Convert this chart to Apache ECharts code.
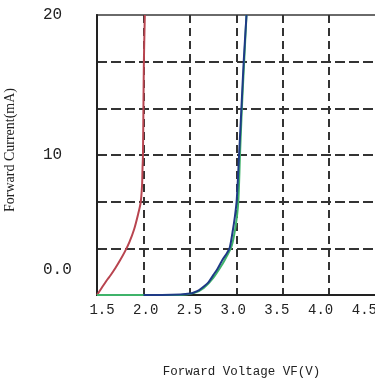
<!DOCTYPE html>
<html>
<head>
<meta charset="utf-8">
<script src="https://cdn.jsdelivr.net/npm/echarts@6/dist/echarts.min.js"></script>
<style>
html,body{margin:0;padding:0;background:#fff;}
#chart{width:375px;height:385px;}
</style>
</head>
<body>
<div id="chart"></div>
<script>
// Tick labels
const xTickValues = [1.5, 2.0, 2.5, 3.0, 3.5, 4.0, 4.5];
const yTickValues = [0, 10, 20];
const yTickLabels = ['0.0', '10', '20'];

// Series: [Forward Voltage (V), Forward Current (mA)]
const redV   = [1.5, 1.55, 1.6, 1.65, 1.7, 1.75, 1.8, 1.85, 1.9, 1.94, 1.97, 1.985, 1.99, 1.995, 2.0, 2.005, 2.015];
const redI   = [0, 0.5, 1.0, 1.45, 1.95, 2.5, 3.1, 3.8, 4.7, 5.7, 6.6, 7.8, 9, 10, 13.3, 16.7, 20];
const greenV = [1.5, 2.0, 2.4, 2.55, 2.65, 2.75, 2.85, 2.9, 2.95, 2.99, 3.02, 3.04, 3.06, 3.085, 3.11];
const greenI = [0, 0, 0, 0.15, 0.5, 1.2, 2.2, 2.8, 3.5, 4.8, 6.5, 10, 13.3, 16.7, 20];
const blueV  = [2.0, 2.2, 2.4, 2.5, 2.55, 2.6, 2.65, 2.7, 2.75, 2.8, 2.85, 2.9, 2.93, 2.96, 2.985, 3.005, 3.03, 3.055, 3.08, 3.11];
const blueI  = [0, 0, 0.03, 0.1, 0.2, 0.35, 0.6, 0.9, 1.4, 1.9, 2.5, 3.0, 3.4, 4.5, 5.6, 6.8, 10, 13.3, 16.7, 20];

const zip = (a, b) => a.map((v, i) => [v, b[i]]);

const mono = 'Liberation Mono';
const chart = echarts.init(document.getElementById('chart'), null, {renderer: 'canvas'});
chart.setOption({
  animation: false,
  backgroundColor: '#fff',
  grid: {left: 97, top: 15, bottom: 90, right: -47, containLabel: false, outerBoundsMode: 'none',
    show: true, borderColor: '#6a6a6a', borderWidth: 2, backgroundColor: 'transparent'},
  xAxis: [{
    type: 'value', min: 1.5, max: 5.0, interval: 0.5,
    axisLine: {show: true, onZero: false, lineStyle: {color: '#222', width: 2}},
    axisTick: {show: false},
    axisLabel: {show: false},
    splitLine: {show: true, showMinLine: false, showMaxLine: false, lineStyle: {color: '#333', width: 2, type: [8, 5]}}
  }, {
    type: 'value', position: 'bottom', min: 1.4429, max: 5.1587,
    axisLine: {show: false}, axisTick: {show: false}, splitLine: {show: false},
    axisLabel: {show: true, customValues: xTickValues, formatter: v => v.toFixed(1),
      color: '#222', fontFamily: mono, fontSize: 14, margin: 8},
    name: 'Forward Voltage VF(V)', nameLocation: 'middle', nameGap: 70,
    nameTextStyle: {color: '#222', fontFamily: mono, fontSize: 12.5, padding: [0, 36, 0, 0]}
  }],
  yAxis: [{
    type: 'value', min: 0, max: 20, interval: 10 / 3,
    axisLine: {show: true, onZero: false, lineStyle: {color: '#222', width: 2}},
    axisTick: {show: false},
    axisLabel: {show: true, customValues: yTickValues, align: 'left', margin: 54,
      color: '#222', fontFamily: mono, fontSize: 16,
      formatter: v => {
        const lbl = yTickLabels[yTickValues.indexOf(v)];
        return v === 0 ? '{lo|' + lbl + '}' : lbl;
      },
      rich: {lo: {padding: [0, 0, 50, 0], color: '#222', fontFamily: mono, fontSize: 16}}
    },
    splitLine: {show: true, showMinLine: false, showMaxLine: false, lineStyle: {color: '#333', width: 2, type: [10, 4]}},
    name: 'Forward Current(mA)', nameLocation: 'middle', nameRotate: 90, nameGap: 80,
    nameTextStyle: {color: '#222', fontFamily: 'Liberation Serif', fontSize: 14, padding: [0, 0, 0, 10]}
  }],
  series: [
    {name: 'Red', type: 'line', data: zip(redV, redI), showSymbol: false, smooth: 0.3,
      lineStyle: {color: '#b8444f', width: 2}, z: 3},
    {name: 'Green', type: 'line', data: zip(greenV, greenI), showSymbol: false, smooth: 0.3,
      lineStyle: {color: '#3fb36a', width: 2}, z: 3},
    {name: 'Blue', type: 'line', data: zip(blueV, blueI), showSymbol: false, smooth: 0.3,
      lineStyle: {color: '#1e3a86', width: 2}, z: 4}
  ]
});
</script>
</body>
</html>
